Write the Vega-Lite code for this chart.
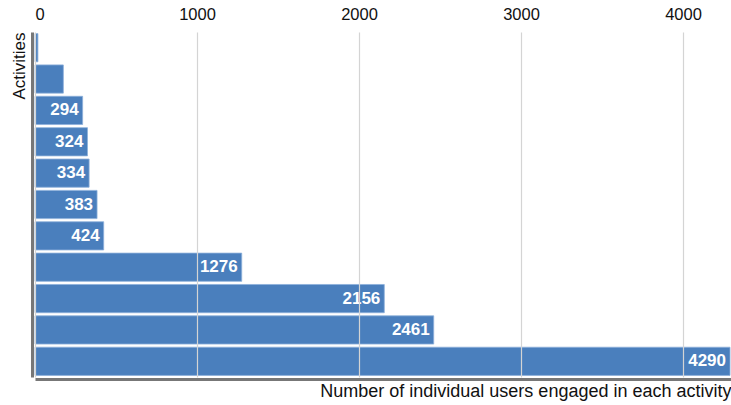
{
  "$schema": "https://vega.github.io/schema/vega-lite/v6.json",
  "width": 696,
  "height": 345,
  "autosize": {"type": "none"},
  "padding": {"left": 35, "top": 32, "right": 0, "bottom": 28},
  "background": "white",
  "config": {
    "view": {"stroke": null},
    "font": "Liberation Sans",
    "axis": {"labelFont": "Liberation Sans", "titleFont": "Liberation Sans"}
  },
  "data": {
    "values": [
      {"activity": "Activity 1", "users": 18},
      {"activity": "Activity 2", "users": 175},
      {"activity": "Activity 3", "users": 294},
      {"activity": "Activity 4", "users": 324},
      {"activity": "Activity 5", "users": 334},
      {"activity": "Activity 6", "users": 383},
      {"activity": "Activity 7", "users": 424},
      {"activity": "Activity 8", "users": 1276},
      {"activity": "Activity 9", "users": 2156},
      {"activity": "Activity 10", "users": 2461},
      {"activity": "Activity 11", "users": 4290}
    ]
  },
  "encoding": {
    "y": {
      "field": "activity",
      "type": "nominal",
      "sort": null,
      "scale": {"paddingInner": 0.1, "paddingOuter": 0.05},
      "axis": {
        "title": "Activities",
        "titleAnchor": "start",
        "titleAlign": "right",
        "titleFontSize": 17,
        "titleFontWeight": "normal",
        "titleColor": "#111",
        "titlePadding": 4,
        "labels": false,
        "ticks": false,
        "domainColor": "#777",
        "domainWidth": 3,
        "offset": 3
      }
    }
  },
  "layer": [
    {
      "mark": {"type": "bar", "color": "#4a7fbd", "stroke": "#8db0da", "strokeWidth": 0.8},
      "encoding": {
        "x": {
          "field": "users",
          "type": "quantitative",
          "scale": {"domain": [0, 4296], "nice": false},
          "axis": {
            "orient": "top",
            "values": [0, 1000, 2000, 3000, 4000],
            "format": "d",
            "title": null,
            "labelFontSize": 16.5,
            "labelColor": "#111",
            "labelPadding": 10,
            "ticks": false,
            "domain": false,
            "grid": true,
            "gridColor": "#d4d4d4",
            "gridWidth": 1.2,
            "zindex": 1
          }
        }
      }
    },
    {
      "transform": [{"filter": "datum.users > 250"}],
      "mark": {"type": "text", "align": "right", "dx": -4, "color": "white", "fontWeight": "bold", "fontSize": 17, "font": "Liberation Sans"},
      "encoding": {
        "x": {
          "field": "users",
          "type": "quantitative",
          "axis": {
            "orient": "bottom",
            "title": "Number of individual users engaged in each activity",
            "titleAnchor": "end",
            "titleFontSize": 18,
            "titleFontWeight": "normal",
            "titleColor": "#111",
            "titlePadding": 3,
            "labels": false,
            "ticks": false,
            "grid": false,
            "domainColor": "#777",
            "domainWidth": 3,
            "offset": 2
          }
        },
        "text": {"field": "users", "type": "quantitative"}
      }
    }
  ],
  "resolve": {"axis": {"x": "independent"}}
}
